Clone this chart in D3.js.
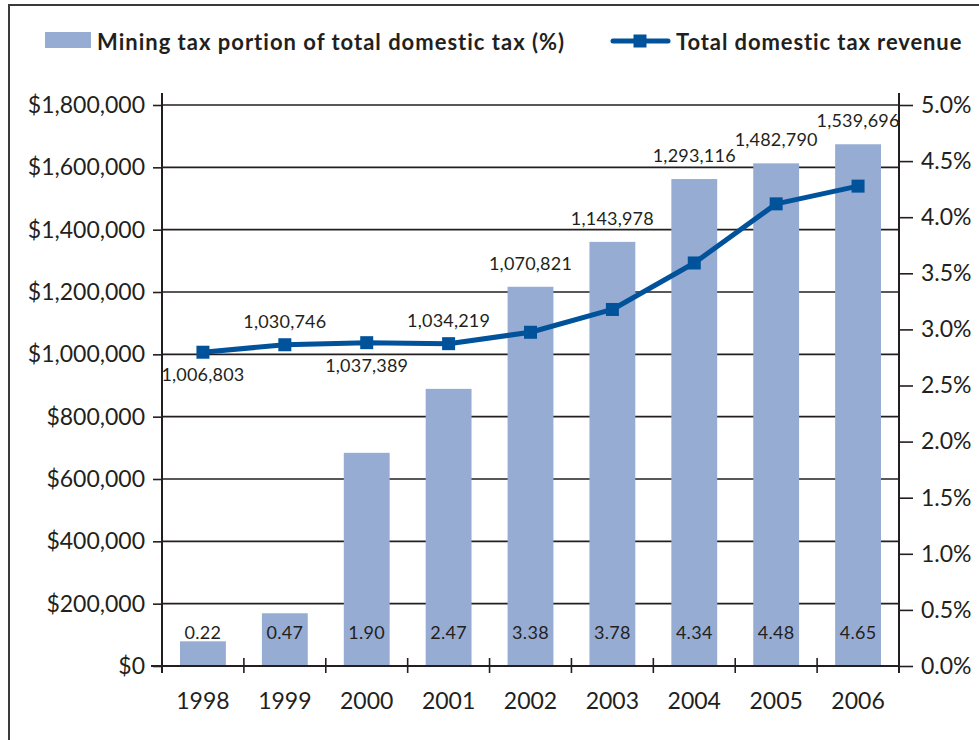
<!DOCTYPE html>
<html><head><meta charset="utf-8">
<script src="https://cdn.jsdelivr.net/npm/d3@7"></script>
<style>
html,body{margin:0;padding:0;background:#fff;}
svg{display:block;font-family:Lato,"Open Sans",sans-serif;}
</style></head>
<body>
<svg id="chart" width="979" height="740"></svg>
<script>
const years = ["1998","1999","2000","2001","2002","2003","2004","2005","2006"];
const miningPct = [0.22,0.47,1.90,2.47,3.38,3.78,4.34,4.48,4.65];
const totalRevenue = [1006803,1030746,1037389,1034219,1070821,1143978,1293116,1482790,1539696];
const revenueLabelSide = ["below","above","below","above","above","above","above","above","above"];
const leftTicks = [0,200000,400000,600000,800000,1000000,1200000,1400000,1600000,1800000];
const rightTicks = [0,0.5,1,1.5,2,2.5,3,3.5,4,4.5,5];
const legendLabels = ["Mining tax portion of total domestic tax (%)","Total domestic tax revenue"];

const ink = "#231f20", barColor = "#97acd3", lineColor = "#00529b";
const svg = d3.select("#chart");
const L = 162, R = 899, T = 105, B = 666;

// frame
svg.append("rect").attr("x",9).attr("y",5).attr("width",2000).attr("height",2000)
  .attr("fill","none").attr("stroke","#3a3a3a").attr("stroke-width",2);

const x = d3.scaleBand().domain(years).range([L,R]).paddingInner(0.44).paddingOuter(0.22);
const yL = d3.scaleLinear().domain([0,1800000]).range([B,T]);
const yR = d3.scaleLinear().domain([0,5]).range([B,T]);

// gridlines
svg.append("g").selectAll("line").data(leftTicks.slice(1)).join("line")
  .attr("x1",L).attr("x2",R).attr("y1",d=>yL(d)).attr("y2",d=>yL(d))
  .attr("stroke",ink).attr("stroke-width",1.6);

// bars
svg.append("g").selectAll("rect").data(years).join("rect")
  .attr("x",d=>x(d)).attr("width",x.bandwidth())
  .attr("y",(d,i)=>yR(miningPct[i])).attr("height",(d,i)=>B-yR(miningPct[i]))
  .attr("fill",barColor);

// bar labels
svg.append("g").selectAll("text").data(years).join("text")
  .attr("x",d=>x(d)+x.bandwidth()/2).attr("y",632)
  .attr("text-anchor","middle").attr("dominant-baseline","central")
  .attr("font-size",18).attr("letter-spacing",0.3).attr("fill",ink)
  .text((d,i)=>miningPct[i].toFixed(2));

// left axis
const gl = svg.append("g").attr("transform",`translate(${L},0)`)
  .call(d3.axisLeft(yL).tickValues(leftTicks).tickSize(9).tickPadding(8)
    .tickFormat(d=>"$"+d3.format(",")(d)));
gl.select(".domain").remove();
gl.selectAll(".tick line").attr("stroke",ink).attr("stroke-width",1.6);
gl.selectAll(".tick text").attr("font-size",23).attr("fill",ink).attr("font-family","Lato,sans-serif");

// right axis
const gr = svg.append("g").attr("transform",`translate(${R},0)`)
  .call(d3.axisRight(yR).tickValues(rightTicks).tickSize(14).tickPadding(8)
    .tickFormat(d=>d3.format(".1f")(d)+"%"));
gr.select(".domain").remove();
gr.selectAll(".tick line").attr("stroke",ink).attr("stroke-width",1.6);
gr.selectAll(".tick text").attr("font-size",23).attr("fill",ink).attr("font-family","Lato,sans-serif");

// axis lines
svg.append("line").attr("x1",L).attr("x2",L).attr("y1",93).attr("y2",673).attr("stroke",ink).attr("stroke-width",2);
svg.append("line").attr("x1",R).attr("x2",R).attr("y1",93).attr("y2",673).attr("stroke",ink).attr("stroke-width",2);
svg.append("line").attr("x1",151).attr("x2",R).attr("y1",B).attr("y2",B).attr("stroke",ink).attr("stroke-width",2);

// x axis boundary ticks
const boundaries = years.slice(1).map(d=>x(d)-x.step()*x.paddingInner()/2);
svg.append("g").selectAll("line").data(boundaries).join("line")
  .attr("x1",d=>d).attr("x2",d=>d).attr("y1",658).attr("y2",673)
  .attr("stroke",ink).attr("stroke-width",1.6);

// year labels
svg.append("g").selectAll("text").data(years).join("text")
  .attr("x",d=>x(d)+x.bandwidth()/2).attr("y",700)
  .attr("text-anchor","middle").attr("dominant-baseline","central")
  .attr("font-size",23).attr("fill",ink).text(d=>d);

// line
const cx = (d,i)=>x(years[i])+x.bandwidth()/2;
svg.append("path").datum(totalRevenue)
  .attr("d",d3.line().x((d,i)=>cx(d,i)).y(d=>yL(d)))
  .attr("fill","none").attr("stroke",lineColor).attr("stroke-width",5).attr("stroke-linejoin","round");
svg.append("g").selectAll("rect").data(totalRevenue).join("rect")
  .attr("x",(d,i)=>cx(d,i)-6.5).attr("y",d=>yL(d)-6.5).attr("width",13).attr("height",13)
  .attr("fill",lineColor);

// line labels
svg.append("g").selectAll("text").data(totalRevenue).join("text")
  .attr("x",(d,i)=>cx(d,i))
  .attr("y",(d,i)=> revenueLabelSide[i]==="below" ? yL(d)+22 : Math.min(yL(d), yR(miningPct[i]))-24)
  .attr("text-anchor","middle").attr("dominant-baseline","central")
  .attr("font-size",18).attr("letter-spacing",0.2).attr("fill",ink).text(d=>d3.format(",")(d));

// legend
const lg = svg.append("g");
lg.append("rect").attr("x",45).attr("y",32).attr("width",46).attr("height",16).attr("fill",barColor);
lg.append("text").attr("x",97).attr("y",41).attr("dominant-baseline","central")
  .attr("font-size",22).attr("letter-spacing",1).attr("font-weight","bold").attr("fill",ink).text(legendLabels[0]);
lg.append("line").attr("x1",613).attr("x2",668).attr("y1",41).attr("y2",41)
  .attr("stroke",lineColor).attr("stroke-width",5).attr("stroke-linecap","round");
lg.append("rect").attr("x",633.5).attr("y",34.5).attr("width",13).attr("height",13).attr("fill",lineColor);
lg.append("text").attr("x",676).attr("y",41).attr("dominant-baseline","central")
  .attr("font-size",22).attr("letter-spacing",0.9).attr("font-weight","bold").attr("fill",ink).text(legendLabels[1]);
</script>
</body></html>
